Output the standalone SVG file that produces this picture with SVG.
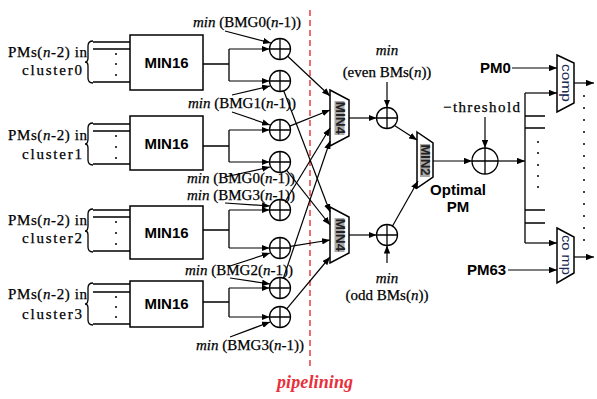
<svg xmlns="http://www.w3.org/2000/svg" width="597" height="399" viewBox="0 0 597 399">
<style>
.ln{stroke:#000;stroke-width:1.3;fill:none}
.ar{stroke:#000;stroke-width:1.2;fill:none;marker-end:url(#ah)}
.box{stroke:#000;stroke-width:1.5;fill:#fff}
.add{stroke:#000;stroke-width:1.3;fill:#fff}
.ser{font-family:"Liberation Serif","Times New Roman",serif;font-size:15px;fill:#000;stroke:#000;stroke-width:0.25}
.it{font-style:italic}
.sans{font-family:"Liberation Sans",Arial,sans-serif;font-weight:bold;font-size:15px;fill:#000}
.rot{font-family:"Liberation Sans",Arial,sans-serif;font-weight:bold;font-size:12px;fill:#222}
.band{fill:#a8a8a8}
.dot{fill:#000}
</style>
<defs>
<marker id="ah" viewBox="0 0 10 8" refX="10" refY="4" markerWidth="8" markerHeight="6.4" markerUnits="userSpaceOnUse" orient="auto"><path d="M0,0 L10,4 L0,8 z" fill="#000"/></marker>
<g id="plus"><circle r="10.5" class="add"/><path d="M-10.5,0 H10.5 M0,-10.5 V10.5" class="ln"/></g>
</defs>

<!-- pipeline line -->
<g id="pipeline">
<line x1="310" y1="10" x2="310" y2="370" stroke="#e8303a" stroke-width="1.4" stroke-dasharray="6,4"/>
<text x="315" y="388" text-anchor="middle" font-family="Liberation Serif,serif" font-style="italic" font-weight="bold" font-size="18" fill="#e8303a" textLength="76" lengthAdjust="spacing">pipelining</text>
</g>

<!-- cluster inputs -->
<g id="cluster0">
<text class="ser" x="8" y="57" textLength="79" lengthAdjust="spacing">PMs(<tspan class="it">n</tspan>-2) in</text>
<text class="ser" x="22" y="75" textLength="60" lengthAdjust="spacing">cluster0</text>
<path class="ln" d="M93,41 Q88,41 88,46 V58 Q88,62 85,62 Q88,62 88,66 V78 Q88,83 93,83"/>
<path class="ln" d="M93,42 H130 M93,49 H130 M93,82 H130"/>
<circle class="dot" cx="116" cy="54" r="1"/><circle class="dot" cx="116" cy="64" r="1"/><circle class="dot" cx="116" cy="75" r="1"/>
</g>
<g id="cluster1">
<text class="ser" x="8" y="140" textLength="79" lengthAdjust="spacing">PMs(<tspan class="it">n</tspan>-2) in</text>
<text class="ser" x="22" y="159" textLength="60" lengthAdjust="spacing">cluster1</text>
<path class="ln" d="M93,123 Q88,123 88,128 V139 Q88,144 85,144 Q88,144 88,148 V160 Q88,165 93,165"/>
<path class="ln" d="M93,124 H130 M93,131 H130 M93,164 H130"/>
<circle class="dot" cx="116" cy="136" r="1"/><circle class="dot" cx="116" cy="147" r="1"/><circle class="dot" cx="116" cy="158" r="1"/>
</g>
<g id="cluster2">
<text class="ser" x="8" y="225" textLength="79" lengthAdjust="spacing">PMs(<tspan class="it">n</tspan>-2) in</text>
<text class="ser" x="22" y="243" textLength="60" lengthAdjust="spacing">cluster2</text>
<path class="ln" d="M93,209 Q88,209 88,214 V226 Q88,231 85,231 Q88,231 88,235 V247 Q88,252 93,252"/>
<path class="ln" d="M93,210 H130 M93,217 H130 M93,251 H130"/>
<circle class="dot" cx="116" cy="222" r="1"/><circle class="dot" cx="116" cy="233" r="1"/><circle class="dot" cx="116" cy="244" r="1"/>
</g>
<g id="cluster3">
<text class="ser" x="8" y="299" textLength="79" lengthAdjust="spacing">PMs(<tspan class="it">n</tspan>-2) in</text>
<text class="ser" x="22" y="319" textLength="60" lengthAdjust="spacing">cluster3</text>
<path class="ln" d="M93,283 Q88,283 88,288 V299 Q88,304 85,304 Q88,304 88,308 V320 Q88,325 93,325"/>
<path class="ln" d="M93,284 H130 M93,292 H130 M93,324 H130"/>
<circle class="dot" cx="116" cy="297" r="1"/><circle class="dot" cx="116" cy="307" r="1"/><circle class="dot" cx="116" cy="317" r="1"/>
</g>

<!-- MIN16 boxes -->
<g id="min16_0"><rect class="box" x="130" y="35" width="73" height="55"/><text class="sans" x="166.5" y="68" text-anchor="middle">MIN16</text></g>
<g id="min16_1"><rect class="box" x="130" y="116" width="73" height="54"/><text class="sans" x="166.5" y="148.5" text-anchor="middle">MIN16</text></g>
<g id="min16_2"><rect class="box" x="130" y="206" width="73" height="53"/><text class="sans" x="166.5" y="238" text-anchor="middle">MIN16</text></g>
<g id="min16_3"><rect class="box" x="130" y="281" width="73" height="46"/><text class="sans" x="166.5" y="309" text-anchor="middle">MIN16</text></g>

<!-- adders -->
<g id="add1"><use href="#plus" x="280" y="49"/></g>
<g id="add2"><use href="#plus" x="280" y="81"/></g>
<g id="add3"><use href="#plus" x="280" y="130"/></g>
<g id="add4"><use href="#plus" x="280" y="162"/></g>
<g id="add5"><use href="#plus" x="280" y="210"/></g>
<g id="add6"><use href="#plus" x="280" y="248"/></g>
<g id="add7"><use href="#plus" x="280" y="288"/></g>
<g id="add8"><use href="#plus" x="280" y="317"/></g>
<g id="addEven"><use href="#plus" x="387" y="118"/></g>
<g id="addOdd"><use href="#plus" x="387" y="235"/></g>
<g id="addThr"><circle cx="485" cy="161" r="13" class="add"/><path class="ln" d="M472,161 H498 M485,148 V174"/></g>

<!-- BMG labels -->
<g id="bmgLabels">
<text class="ser" x="193" y="27"><tspan class="it">min</tspan> (BMG0(<tspan class="it">n</tspan>-1))</text>
<text class="ser" x="188" y="108"><tspan class="it">min</tspan> (BMG1(<tspan class="it">n</tspan>-1))</text>
<text class="ser" x="187" y="183"><tspan class="it">min</tspan> (BMG0(<tspan class="it">n</tspan>-1))</text>
<text class="ser" x="187" y="200"><tspan class="it">min</tspan> (BMG3(<tspan class="it">n</tspan>-1))</text>
<text class="ser" x="185" y="275"><tspan class="it">min</tspan> (BMG2(<tspan class="it">n</tspan>-1))</text>
<text class="ser" x="196" y="350"><tspan class="it">min</tspan> (BMG3(<tspan class="it">n</tspan>-1))</text>
</g>

<!-- MIN4 / MIN2 -->
<g id="min4top"><path class="box" d="M330,90 L349,100 L349,136 L330,146 Z"/><rect class="band" x="334.5" y="101" width="10" height="34"/><text class="rot" transform="translate(339.5,118) rotate(90)" text-anchor="middle" dominant-baseline="central" textLength="33" lengthAdjust="spacingAndGlyphs">MIN4</text></g>
<g id="min4bot"><path class="box" d="M330,207 L349,217 L349,253 L330,263 Z"/><rect class="band" x="334.5" y="218" width="10" height="34"/><text class="rot" transform="translate(339.5,235) rotate(90)" text-anchor="middle" dominant-baseline="central" textLength="33" lengthAdjust="spacingAndGlyphs">MIN4</text></g>
<g id="min2"><path class="box" d="M417,132 L433,143 L433,177 L417,188 Z"/><rect class="band" x="420" y="144" width="10" height="33"/><text class="rot" transform="translate(425,160) rotate(90)" text-anchor="middle" dominant-baseline="central" textLength="31" lengthAdjust="spacingAndGlyphs">MIN2</text></g>

<!-- comps -->
<g id="comp0"><path class="box" d="M557,55 L574,63 L574,103 L557,112 Z"/><text class="rot" style="font-weight:normal;fill:#1a2a55" transform="translate(565.5,83) rotate(90)" text-anchor="middle" dominant-baseline="central" textLength="38" lengthAdjust="spacingAndGlyphs">comp</text></g>
<g id="comp63"><path class="box" d="M557,228 L574,237 L574,273 L557,283 Z"/><text class="rot" style="font-weight:normal;fill:#1a2a55" transform="translate(565.5,255) rotate(90)" text-anchor="middle" dominant-baseline="central" textLength="40" lengthAdjust="spacingAndGlyphs">co mp</text></g>

<!-- other labels -->
<g id="otherLabels">
<text class="ser it" x="387" y="55" text-anchor="middle">min</text>
<text class="ser" x="387" y="77" text-anchor="middle">(even BMs(<tspan class="it">n</tspan>))</text>
<text class="ser it" x="387" y="283" text-anchor="middle">min</text>
<text class="ser" x="387" y="300" text-anchor="middle">(odd BMs(<tspan class="it">n</tspan>))</text>
<text class="ser" x="443" y="112" textLength="77" lengthAdjust="spacing">−threshold</text>
<text class="sans" x="458" y="195" text-anchor="middle">Optimal</text>
<text class="sans" x="458" y="212" text-anchor="middle">PM</text>
<text class="sans" x="480" y="73">PM0</text>
<text class="sans" x="467" y="275">PM63</text>
</g>

<!-- connectors -->
<g id="connectors">
<path class="ln" d="M203,64 H229 M229,49 V81 M203,146 H229 M229,130 V162 M203,230 H229 M229,210 V248 M203,302 H229 M229,288 V317"/>
<line class="ar" x1="229" y1="49" x2="269.5" y2="49"/>
<line class="ar" x1="229" y1="81" x2="269.5" y2="81"/>
<line class="ar" x1="229" y1="130" x2="269.5" y2="130"/>
<line class="ar" x1="229" y1="162" x2="269.5" y2="162"/>
<line class="ar" x1="229" y1="210" x2="269.5" y2="210"/>
<line class="ar" x1="229" y1="248" x2="269.5" y2="248"/>
<line class="ar" x1="229" y1="288" x2="269.5" y2="288"/>
<line class="ar" x1="229" y1="317" x2="269.5" y2="317"/>
<line class="ar" x1="225" y1="31" x2="271" y2="43"/>
<line class="ar" x1="232" y1="95" x2="270" y2="86"/>
<line class="ar" x1="232" y1="112" x2="270" y2="125"/>
<line class="ar" x1="225" y1="177" x2="270" y2="167"/>
<line class="ar" x1="225" y1="203" x2="270" y2="206"/>
<line class="ar" x1="230" y1="266" x2="270" y2="253"/>
<line class="ar" x1="230" y1="278" x2="270" y2="284"/>
<line class="ar" x1="230" y1="337" x2="270" y2="322"/>
<line class="ar" x1="287.7" y1="56.2" x2="330" y2="96"/>
<line class="ar" x1="289.7" y1="126.1" x2="330" y2="110"/>
<line class="ar" x1="285.5" y1="201" x2="330" y2="128"/>
<line class="ar" x1="283.4" y1="278.1" x2="330" y2="141"/>
<line class="ar" x1="283.7" y1="90.8" x2="330" y2="212"/>
<line class="ar" x1="286.5" y1="170.2" x2="330" y2="225"/>
<line class="ar" x1="290.4" y1="246.3" x2="330" y2="240"/>
<line class="ar" x1="286.7" y1="308.9" x2="330" y2="257"/>
<line class="ar" x1="349" y1="118" x2="376.5" y2="118"/>
<line class="ar" x1="349" y1="235" x2="376.5" y2="235"/>
<line class="ar" x1="387" y1="82" x2="387" y2="107.5"/>
<line class="ar" x1="387" y1="263" x2="387" y2="245.5"/>
<line class="ar" x1="394.5" y1="125.5" x2="417" y2="140"/>
<line class="ar" x1="392.5" y1="226" x2="418" y2="181"/>
<line class="ar" x1="433" y1="161" x2="472" y2="161"/>
<line class="ar" x1="485" y1="117" x2="485" y2="148"/>
<line class="ar" x1="498" y1="161" x2="525" y2="161"/>
<path class="ln" d="M525,93 V243 M525,116 H545 M525,128 H545 M525,210 H545 M525,223 H545"/>
<line class="ar" x1="525" y1="93" x2="557" y2="93"/>
<line class="ar" x1="525" y1="243" x2="557" y2="243"/>
<line class="ar" x1="512" y1="68" x2="557" y2="68"/>
<line class="ar" x1="508" y1="270" x2="557" y2="270"/>
<line class="ar" x1="574" y1="83" x2="594" y2="83"/>
<line class="ar" x1="574" y1="257" x2="594" y2="257"/>
</g>
<g id="dots">
<circle class="dot" cx="538" cy="142" r="1"/><circle class="dot" cx="538" cy="153" r="1"/><circle class="dot" cx="538" cy="165" r="1"/><circle class="dot" cx="538" cy="176" r="1"/><circle class="dot" cx="538" cy="187" r="1"/>
<circle class="dot" cx="584" cy="96" r="1"/><circle class="dot" cx="584" cy="108" r="1"/><circle class="dot" cx="584" cy="120" r="1"/><circle class="dot" cx="584" cy="132" r="1"/><circle class="dot" cx="584" cy="144" r="1"/><circle class="dot" cx="584" cy="156" r="1"/><circle class="dot" cx="584" cy="168" r="1"/><circle class="dot" cx="584" cy="180" r="1"/><circle class="dot" cx="584" cy="192" r="1"/><circle class="dot" cx="584" cy="204" r="1"/><circle class="dot" cx="584" cy="216" r="1"/><circle class="dot" cx="584" cy="228" r="1"/><circle class="dot" cx="584" cy="240" r="1"/>
</g>
</svg>
